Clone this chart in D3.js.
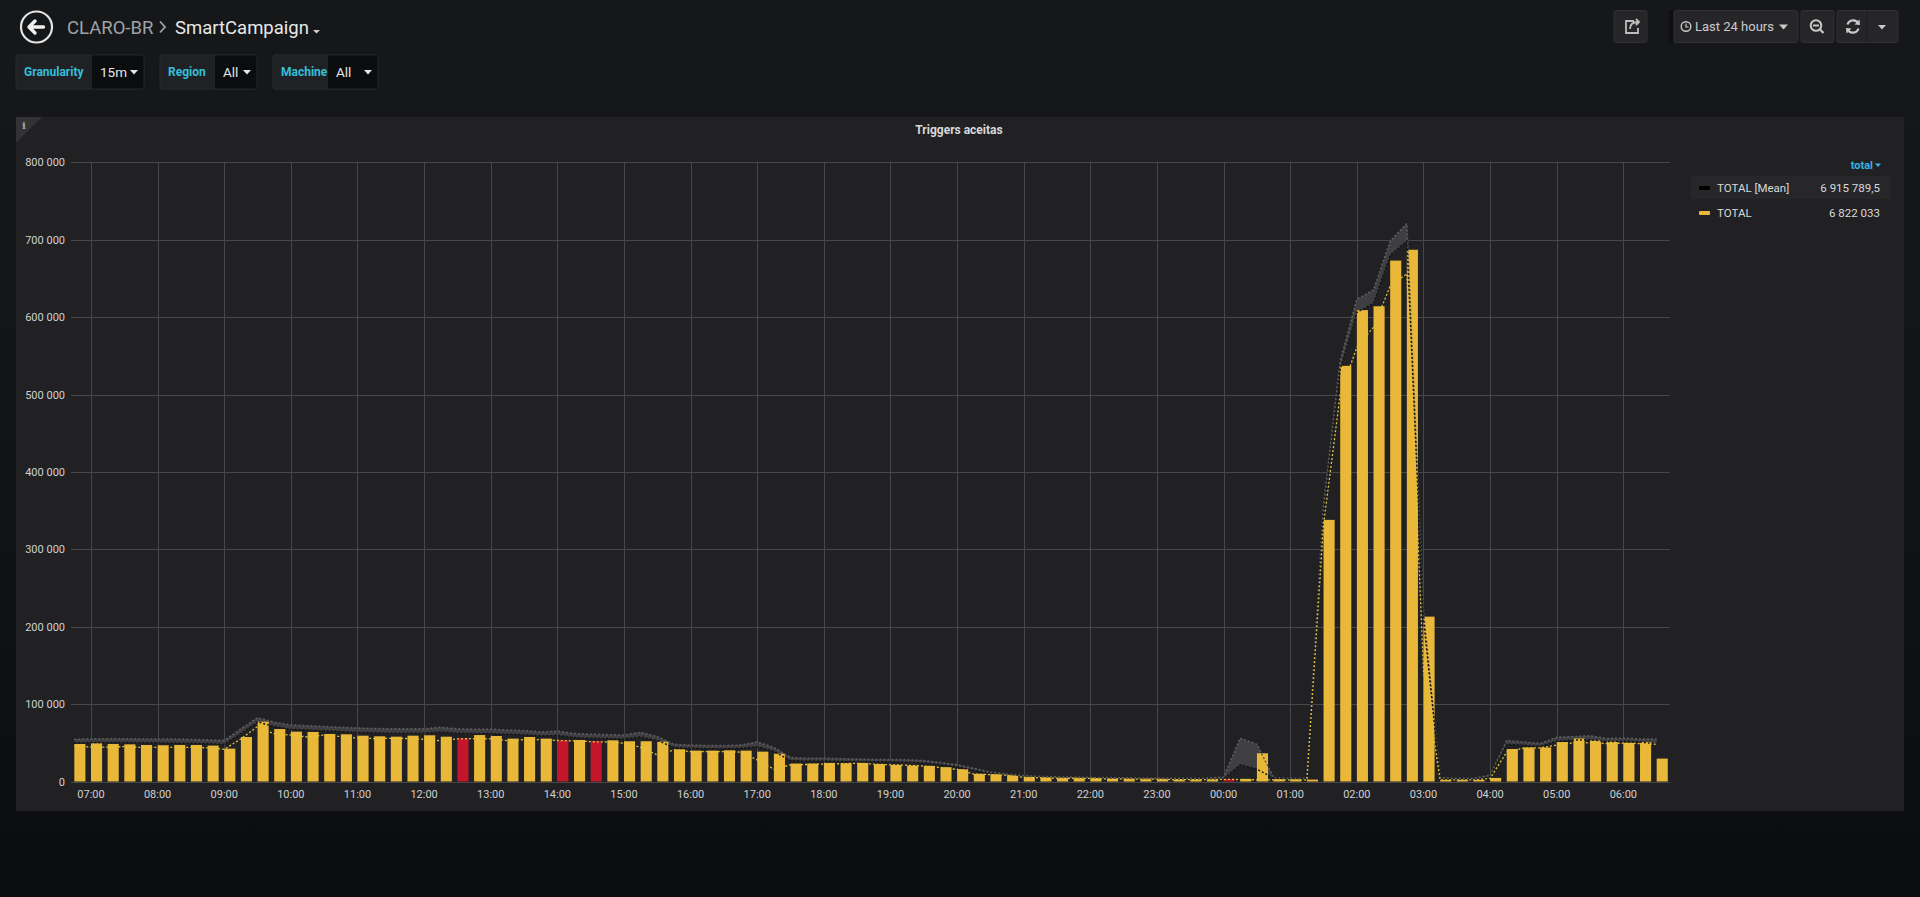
<!DOCTYPE html>
<html>
<head>
<meta charset="utf-8">
<script src="https://cdn.jsdelivr.net/npm/d3@7"></script>
<style>
  html, body {
    margin: 0;
    padding: 0;
    width: 1920px;
    height: 897px;
    overflow: hidden;
    background: linear-gradient(#161719 0px, #141517 300px, #101113 600px, #0b0c0e 897px);
    font-family: Roboto, "Noto Sans", sans-serif;
  }
  svg { display: block; }
</style>
</head>
<body>
<svg id="page"></svg>
<script>
// 15 minute slots, Last 24 hours
const slots = [
  "06:45", "07:00", "07:15", "07:30", "07:45", "08:00", "08:15", "08:30",
  "08:45", "09:00", "09:15", "09:30", "09:45", "10:00", "10:15", "10:30",
  "10:45", "11:00", "11:15", "11:30", "11:45", "12:00", "12:15", "12:30",
  "12:45", "13:00", "13:15", "13:30", "13:45", "14:00", "14:15", "14:30",
  "14:45", "15:00", "15:15", "15:30", "15:45", "16:00", "16:15", "16:30",
  "16:45", "17:00", "17:15", "17:30", "17:45", "18:00", "18:15", "18:30",
  "18:45", "19:00", "19:15", "19:30", "19:45", "20:00", "20:15", "20:30",
  "20:45", "21:00", "21:15", "21:30", "21:45", "22:00", "22:15", "22:30",
  "22:45", "23:00", "23:15", "23:30", "23:45", "00:00", "00:15", "00:30",
  "00:45", "01:00", "01:15", "01:30", "01:45", "02:00", "02:15", "02:30",
  "02:45", "03:00", "03:15", "03:30", "03:45", "04:00", "04:15", "04:30",
  "04:45", "05:00", "05:15", "05:30", "05:45", "06:00", "06:15", "06:30",
];

// TOTAL (bars)
const totalValues = [
  48500, 49400, 48500, 48000, 47200, 46800, 47200, 47200,
  46400, 42500, 57500, 77300, 67800, 64400, 64000, 61400,
  61000, 59200, 58400, 57900, 59200, 59700, 57900, 55800,
  60000, 58800, 55400, 57500, 55400, 53200, 53600, 52000,
  53200, 52000, 52000, 51500, 41600, 39900, 39900, 40300,
  39900, 38600, 36000, 23200, 23200, 24000, 23600, 24000,
  22500, 21500, 20600, 20200, 18500, 15900, 9900, 9400,
  8200, 5600, 5200, 4300, 4300, 4300, 3400, 3400,
  3000, 3000, 2600, 2600, 2600, 3000, 3400, 36500,
  3000, 3000, 2500, 338000, 537000, 609000, 614000, 673000,
  687000, 213000, 2000, 2000, 2000, 4600, 42000, 44000,
  44000, 51000, 55600, 53000, 51500, 50000, 51000, 29600,
];

// TOTAL [Mean] (black dotted line)
const meanValues = [
  50000, 50300, 50500, 50500, 50200, 50000, 49800, 49500,
  49000, 48000, 62000, 77000, 71000, 67500, 66500, 65500,
  64500, 63500, 63000, 62500, 62500, 62500, 64000, 62500,
  62000, 62000, 61000, 60500, 59000, 59500, 57000, 56000,
  55500, 55000, 57500, 53000, 44000, 43000, 42500, 42500,
  43000, 45000, 39000, 27000, 26500, 26500, 26000, 25800,
  25500, 25500, 25000, 24000, 22000, 19000, 14500, 10500,
  8500, 6500, 5800, 5200, 4800, 4500, 4300, 4000,
  3800, 3600, 3400, 3400, 3500, 3600, 21600, 16000,
  4400, 3500, 3500, 345000, 532000, 606000, 618000, 680000,
  698000, 210000, 3500, 3000, 3000, 6000, 48000, 47000,
  45500, 52000, 53500, 54000, 51500, 52000, 51000, 48500,
];

// upper edge of the grey band
const upperValues = [
  54500, 55000, 55300, 55300, 55000, 55000, 54700, 54300,
  53800, 53000, 68000, 82400, 76500, 73000, 72000, 71000,
  70000, 69000, 68500, 68000, 68000, 68000, 70000, 68000,
  67500, 67500, 66500, 65800, 64000, 65000, 62000, 61000,
  60500, 60000, 63500, 58000, 48000, 47000, 46500, 46500,
  47000, 51000, 44000, 31000, 30000, 30000, 29500, 29000,
  28500, 28500, 28000, 27000, 24500, 21500, 17000, 12000,
  9500, 7500, 6500, 6000, 5500, 5200, 5000, 4800,
  4500, 4200, 4000, 4000, 4300, 5600, 56000, 48000,
  5000, 4000, 4000, 357000, 543000, 623000, 635000, 698000,
  721000, 219000, 5000, 4000, 4000, 8000, 53000, 51000,
  49000, 57000, 58000, 59000, 55500, 56000, 55000, 55000,
];

// yellow dotted comparison line
const compareValues = [
  46000, 44500, 44500, 45000, 44000, 44000, 44000, 44000,
  43500, 41600, 55000, 71000, 61400, 60000, 57500, 60000,
  58000, 56000, 55500, 55800, 55500, 54500, 52500, 55000,
  55400, 55000, 52800, 54000, 54000, 53000, 52500, 51500,
  51000, 49400, 44200, 34300, 40800, 38600, 38600, 38600,
  38000, 27900, 15900, 21500, 22000, 22500, 23000, 23500,
  22500, 21500, 21000, 20000, 18000, 15500, 9500, 9000,
  8000, 5500, 5000, 4200, 4200, 4000, 3300, 3300,
  3000, 3000, 2500, 2500, 2500, 2800, 2500, 2200,
  2000, 2000, 2000, 332000, 500000, 561000, 587000, 640000,
  656000, 143000, 2000, 2000, 2000, 4000, 38000, 43000,
  43500, 47000, 50000, 50000, 49000, 49500, 49000, 48000,
];

// slots drawn in red
const alertSlots = ["12:30", "14:00", "14:30", "00:00"];

const xTickLabels = [
  "07:00", "08:00", "09:00", "10:00", "11:00", "12:00", "13:00", "14:00",
  "15:00", "16:00", "17:00", "18:00", "19:00", "20:00", "21:00", "22:00",
  "23:00", "00:00", "01:00", "02:00", "03:00", "04:00", "05:00", "06:00",
];
const yTickValues = [0, 100000, 200000, 300000, 400000, 500000, 600000, 700000, 800000];

const legendNames = ["TOTAL [Mean]", "TOTAL"];
const legendTotals = ["6 915 789,5", "6 822 033"];
const legendColors = ["#000000", "#eab839"];

const width = 1920;
const height = 897;
const plot = { left: 71, right: 1670, top: 162.3, bottom: 781.5 };

const svg = d3.select("#page").attr("width", width).attr("height", height);

// times before 06:42 belong to the next day
function toDate(label) {
  const h = +label.slice(0, 2);
  const m = +label.slice(3, 5);
  const nextDay = h < 6 || (h == 6 && m < 42);
  return new Date(2018, 4, nextDay ? 11 : 10, h, m);
}

const xScale = d3
  .scaleTime()
  .domain([new Date(2018, 4, 10, 6, 42), new Date(2018, 4, 11, 6, 42)])
  .range([plot.left, plot.right]);

const yScale = d3.scaleLinear().domain([0, 800000]).range([plot.bottom, plot.top]);

const locale = d3.formatLocale({ decimal: ",", thousands: " ", grouping: [3], currency: ["", ""] });
const fmt = locale.format(",");

const data = slots.map(function (s, i) {
  return {
    slot: s,
    t: toDate(s),
    total: totalValues[i],
    mean: meanValues[i],
    upper: upperValues[i],
    compare: compareValues[i],
  };
});

// ---------- header ----------
const header = svg.append("g");

header
  .append("circle")
  .attr("cx", 36.5)
  .attr("cy", 27)
  .attr("r", 15.5)
  .attr("fill", "none")
  .attr("stroke", "#e4e4e4")
  .attr("stroke-width", 2.2);

header
  .append("path")
  .attr("d", "M29.5,27 L43.5,27 M35,21 L29,27 L35,33")
  .attr("fill", "none")
  .attr("stroke", "#f0f0f0")
  .attr("stroke-width", 3.4)
  .attr("stroke-linecap", "round")
  .attr("stroke-linejoin", "round");

header
  .append("text")
  .attr("x", 67)
  .attr("y", 34)
  .attr("font-size", 18.5)
  .attr("fill", "#9fa2a7")
  .text("CLARO-BR");

header
  .append("path")
  .attr("d", "M160,21.5 L165,27 L160,32.5")
  .attr("fill", "none")
  .attr("stroke", "#9fa2a7")
  .attr("stroke-width", 1.8);

header
  .append("text")
  .attr("x", 175)
  .attr("y", 34)
  .attr("font-size", 18.5)
  .attr("fill", "#e8e8e8")
  .text("SmartCampaign");

header
  .append("path")
  .attr("d", "M313,30 L320,30 L316.5,33.5 Z")
  .attr("fill", "#cfcfcf");

// variables row
const variables = [
  { label: "Granularity", value: "15m", x: 16, lw: 76, vw: 52 },
  { label: "Region", value: "All", x: 160, lw: 55, vw: 42 },
  { label: "Machine", value: "All", x: 273, lw: 55, vw: 50 },
];

const varGroups = header
  .selectAll(".var")
  .data(variables)
  .join("g")
  .attr("class", "var")
  .attr("transform", function (d) {
    return "translate(" + d.x + ",55)";
  });

varGroups
  .append("rect")
  .attr("width", function (d) { return d.lw + d.vw; })
  .attr("height", 34)
  .attr("rx", 2)
  .attr("fill", "#202125")
  .attr("stroke", "#2a2b2f");

varGroups
  .append("rect")
  .attr("x", function (d) { return d.lw; })
  .attr("y", 0.5)
  .attr("width", function (d) { return d.vw - 0.5; })
  .attr("height", 33)
  .attr("fill", "#0b0c0e");

varGroups
  .append("text")
  .attr("x", 8)
  .attr("y", 21)
  .attr("font-size", 12)
  .attr("font-weight", "bold")
  .attr("fill", "#33bfd8")
  .text(function (d) { return d.label; });

varGroups
  .append("text")
  .attr("x", function (d) { return d.lw + 8; })
  .attr("y", 22)
  .attr("font-size", 13.5)
  .attr("fill", "#e6e6e6")
  .text(function (d) { return d.value; });

varGroups
  .append("path")
  .attr("d", function (d) {
    const cx = d.lw + d.vw - 10;
    return "M" + (cx - 4) + ",15 L" + (cx + 4) + ",15 L" + cx + ",19.5 Z";
  })
  .attr("fill", "#e6e6e6");

// top right buttons
const buttons = [
  { x: 1614, w: 33 },
  { x: 1674, w: 124 },
  { x: 1801, w: 33 },
  { x: 1837, w: 61 },
];

header
  .selectAll(".btn")
  .data(buttons)
  .join("rect")
  .attr("class", "btn")
  .attr("x", function (d) { return d.x; })
  .attr("y", 10.5)
  .attr("width", function (d) { return d.w; })
  .attr("height", 32)
  .attr("rx", 2)
  .attr("fill", "#262628")
  .attr("stroke", "#303033");

header
  .append("rect")
  .attr("x", 1669)
  .attr("y", 10)
  .attr("width", 4)
  .attr("height", 33)
  .attr("fill", "#0e0f11");

// share icon
header
  .append("path")
  .attr("d", "M1634,21 L1626,21 L1626,33 L1638,33 L1638,28 M1630,29 C1630,24 1633,22 1638,22 M1636,19 L1639,22 L1636,25")
  .attr("fill", "none")
  .attr("stroke", "#bdbdbd")
  .attr("stroke-width", 1.8);

// time picker
header
  .append("circle")
  .attr("cx", 1686)
  .attr("cy", 26.5)
  .attr("r", 4.8)
  .attr("fill", "none")
  .attr("stroke", "#c8c8c8")
  .attr("stroke-width", 1.4);

header
  .append("path")
  .attr("d", "M1686,23.5 L1686,27 L1688.5,27")
  .attr("fill", "none")
  .attr("stroke", "#c8c8c8")
  .attr("stroke-width", 1.2);

header
  .append("text")
  .attr("x", 1695)
  .attr("y", 31)
  .attr("font-size", 13)
  .attr("fill", "#c9cacc")
  .text("Last 24 hours");

header
  .append("path")
  .attr("d", "M1779,24.5 L1788,24.5 L1783.5,29.5 Z")
  .attr("fill", "#c8c8c8");

// zoom out icon
header
  .append("circle")
  .attr("cx", 1816)
  .attr("cy", 25.5)
  .attr("r", 5.3)
  .attr("fill", "none")
  .attr("stroke", "#c8c8c8")
  .attr("stroke-width", 2);

header
  .append("path")
  .attr("d", "M1813,25.5 L1819,25.5 M1820,29.5 L1823.5,33")
  .attr("fill", "none")
  .attr("stroke", "#c8c8c8")
  .attr("stroke-width", 2.2);

// refresh icon + caret
header
  .append("path")
  .attr("d", "M1858.5,23.5 A6,6 0 0 0 1847.5,24.5 M1847.5,29.5 A6,6 0 0 0 1858.5,28.5")
  .attr("fill", "none")
  .attr("stroke", "#c8c8c8")
  .attr("stroke-width", 2.2);

header
  .append("path")
  .attr("d", "M1859.5,19.5 L1860,25 L1854.5,24.5 Z M1846.5,33.5 L1846,28 L1851.5,28.5 Z")
  .attr("fill", "#c8c8c8");

header
  .append("line")
  .attr("x1", 1867)
  .attr("x2", 1867)
  .attr("y1", 11)
  .attr("y2", 42)
  .attr("stroke", "#1d1d1f");

header
  .append("path")
  .attr("d", "M1878,25 L1886,25 L1882,29.5 Z")
  .attr("fill", "#c8c8c8");

// ---------- panel ----------
svg
  .append("rect")
  .attr("x", 16)
  .attr("y", 117)
  .attr("width", 1888)
  .attr("height", 694)
  .attr("fill", "#212124");

svg
  .append("path")
  .attr("d", "M16,117 L42,117 L16,143 Z")
  .attr("fill", "#333336");

svg
  .append("text")
  .attr("x", 22)
  .attr("y", 129)
  .attr("font-size", 10)
  .attr("font-family", "DejaVu Serif, serif")
  .attr("font-weight", "bold")
  .attr("fill", "#a9a9ab")
  .text("i");

svg
  .append("text")
  .attr("x", 959)
  .attr("y", 134)
  .attr("text-anchor", "middle")
  .attr("font-size", 12)
  .attr("font-weight", "bold")
  .attr("fill", "#d8d9da")
  .text("Triggers aceitas");

// grid
const grid = svg.append("g");

grid
  .selectAll(".hgrid")
  .data(yTickValues)
  .join("line")
  .attr("class", "hgrid")
  .attr("x1", plot.left)
  .attr("x2", plot.right)
  .attr("y1", function (d) { return Math.round(yScale(d)) + 0.5; })
  .attr("y2", function (d) { return Math.round(yScale(d)) + 0.5; })
  .attr("stroke", "#47474a");

grid
  .selectAll(".vgrid")
  .data(xTickLabels)
  .join("line")
  .attr("class", "vgrid")
  .attr("x1", function (d) { return Math.round(xScale(toDate(d))) + 0.5; })
  .attr("x2", function (d) { return Math.round(xScale(toDate(d))) + 0.5; })
  .attr("y1", plot.top)
  .attr("y2", plot.bottom)
  .attr("stroke", "#47474a");

// axes labels
svg
  .selectAll(".ylabel")
  .data(yTickValues)
  .join("text")
  .attr("class", "ylabel")
  .attr("x", 65)
  .attr("y", function (d) { return yScale(d) + 4; })
  .attr("text-anchor", "end")
  .attr("font-size", 11)
  .attr("fill", "#cfd0d2")
  .text(function (d) { return fmt(d); });

svg
  .selectAll(".xlabel")
  .data(xTickLabels)
  .join("text")
  .attr("class", "xlabel")
  .attr("x", function (d) { return xScale(toDate(d)); })
  .attr("y", 797.5)
  .attr("text-anchor", "middle")
  .attr("font-size", 11)
  .attr("fill", "#cfd0d2")
  .text(function (d) { return d; });

// grey band between mean and upper
const band = d3
  .area()
  .x(function (d) { return xScale(d.t); })
  .y0(function (d) { return yScale(d.mean); })
  .y1(function (d) { return yScale(d.upper); });

svg
  .append("path")
  .datum(data)
  .attr("d", band)
  .attr("fill", "#3f3f42");

// bars
const barMs = 10 * 60 * 1000;
svg
  .selectAll(".bar")
  .data(data)
  .join("rect")
  .attr("class", "bar")
  .attr("x", function (d) { return xScale(d.t); })
  .attr("y", function (d) { return yScale(d.total); })
  .attr("width", function (d) { return xScale(new Date(+d.t + barMs)) - xScale(d.t); })
  .attr("height", function (d) { return yScale(0) - yScale(d.total); })
  .attr("fill", function (d) {
    return alertSlots.indexOf(d.slot) >= 0 ? "#c4162a" : "#eab839";
  });

// dotted lines
function dotted(key, color, w) {
  const line = d3
    .line()
    .x(function (d) { return xScale(d.t); })
    .y(function (d) { return yScale(d[key]); });
  svg
    .append("path")
    .datum(data)
    .attr("d", line)
    .attr("fill", "none")
    .attr("stroke", color)
    .attr("stroke-width", w)
    .attr("stroke-dasharray", "2,2");
}

dotted("upper", "#5e5e62", 1.6);
dotted("mean", "#111112", 1.4);
dotted("compare", "#e2c23a", 1.3);

// ---------- legend ----------
svg
  .append("text")
  .attr("x", 1873)
  .attr("y", 169)
  .attr("text-anchor", "end")
  .attr("font-size", 11)
  .attr("font-weight", "bold")
  .attr("fill", "#33b5e5")
  .text("total");

svg
  .append("path")
  .attr("d", "M1875,163.5 L1881,163.5 L1878,167 Z")
  .attr("fill", "#33b5e5");

svg
  .append("rect")
  .attr("x", 1691)
  .attr("y", 176)
  .attr("width", 199)
  .attr("height", 23)
  .attr("fill", "#27272a");

const legendRows = svg
  .selectAll(".legend")
  .data(legendNames)
  .join("g")
  .attr("class", "legend")
  .attr("transform", function (d, i) {
    return "translate(0," + (187.5 + i * 25) + ")";
  });

legendRows
  .append("rect")
  .attr("x", 1699)
  .attr("y", -1.5)
  .attr("width", 11)
  .attr("height", 4)
  .attr("rx", 1)
  .attr("fill", function (d, i) { return legendColors[i]; });

legendRows
  .append("text")
  .attr("x", 1717)
  .attr("y", 4)
  .attr("font-size", 11.5)
  .attr("fill", "#d8d9da")
  .text(function (d) { return d; });

legendRows
  .append("text")
  .attr("x", 1880)
  .attr("y", 4)
  .attr("text-anchor", "end")
  .attr("font-size", 11.5)
  .attr("fill", "#d8d9da")
  .text(function (d, i) { return legendTotals[i]; });
</script>
</body>
</html>
